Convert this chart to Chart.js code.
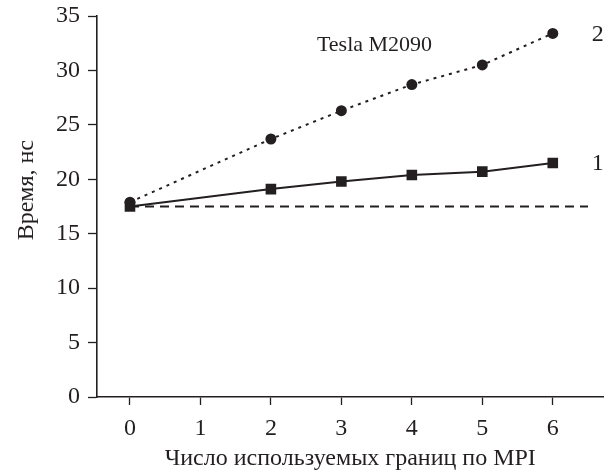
<!DOCTYPE html>
<html>
<head>
<meta charset="utf-8">
<script src="https://cdn.jsdelivr.net/npm/chart.js@4"></script>
<style>
  html, body { margin: 0; padding: 0; background: #fff; }
  #wrap { width: 611px; height: 475px; }
</style>
</head>
<body>
<div id="wrap"><canvas id="timeChart"></canvas></div>
<script>
// data
const boundaries = [0, 2, 3, 4, 5, 6];
const series1 = [17.5, 19.1, 19.8, 20.4, 20.7, 21.5];
const series2 = [17.9, 23.7, 26.3, 28.7, 30.5, 33.4];
const baseline = 17.5;
const baselineEnd = 6.5;
const xTicks = [0, 1, 2, 3, 4, 5, 6];
const yTicks = [0, 5, 10, 15, 20, 25, 30, 35];

const ink = '#231f20';
const serif = 'Liberation Serif, Times New Roman, serif';

function points(values) {
    return boundaries.map((b, i) => ({ x: b, y: values[i] }));
}

// text annotations: curve numbers, device name and the y title (sits a bit above centre)
const labelsPlugin = {
    id: 'curveLabels',
    afterDatasetsDraw(chart) {
        const ctx = chart.ctx;
        const xs = chart.scales.x;
        const ys = chart.scales.y;
        ctx.save();
        ctx.fillStyle = ink;
        ctx.textBaseline = 'middle';
        ctx.textAlign = 'center';
        ctx.font = '24px ' + serif;
        const last = boundaries.length - 1;
        ctx.fillText('2', xs.getPixelForValue(boundaries[last]) + 45, ys.getPixelForValue(series2[last]) + 1);
        ctx.fillText('1', xs.getPixelForValue(boundaries[last]) + 45, ys.getPixelForValue(series1[last]) + 1);
        ctx.font = '22px ' + serif;
        ctx.fillText('Tesla M2090', xs.getPixelForValue(3.47), ys.getPixelForValue(32.3));

        ctx.translate(27, ys.getPixelForValue(19));
        ctx.rotate(-Math.PI / 2);
        ctx.font = '24px ' + serif;
        ctx.fillText('Время, нс', 0, 0);
        ctx.restore();
    }
};

new Chart(document.getElementById('timeChart').getContext('2d'), {
    type: 'scatter',
    data: {
        datasets: [
            {
                label: 'baseline',
                data: [{ x: boundaries[0], y: baseline }, { x: baselineEnd, y: baseline }],
                showLine: true,
                borderColor: ink,
                borderWidth: 2,
                borderDash: [9, 6],
                pointRadius: 0
            },
            {
                label: '2',
                data: points(series2),
                showLine: true,
                borderColor: ink,
                backgroundColor: ink,
                borderWidth: 2,
                borderDash: [3, 5],
                pointStyle: 'circle',
                pointRadius: 5.5,
                pointBorderWidth: 0
            },
            {
                label: '1',
                data: points(series1),
                showLine: true,
                borderColor: ink,
                backgroundColor: ink,
                borderWidth: 2,
                pointStyle: 'rect',
                pointRadius: 7.5,
                pointBorderWidth: 0
            }
        ]
    },
    options: {
        responsive: true,
        maintainAspectRatio: false,
        animation: false,
        layout: { padding: { top: 16, right: 0, left: 0, bottom: 0 } },
        plugins: { legend: { display: false }, tooltip: { enabled: false } },
        scales: {
            x: {
                type: 'linear',
                min: -0.468,
                max: 6.72,
                afterBuildTicks: s => { s.ticks = xTicks.map(v => ({ value: v })); },
                afterFit: s => { s.height = 78; s.paddingLeft = 0; s.paddingRight = 0; },
                grid: { drawOnChartArea: false, tickLength: 8, color: ink, tickWidth: 1.3 },
                border: { color: ink, width: 1.6 },
                ticks: { color: ink, font: { family: serif, size: 24 }, padding: 9 },
                title: {
                    display: true,
                    text: 'Число используемых границ по MPI',
                    color: ink,
                    font: { family: serif, size: 24 },
                    padding: { top: 0, bottom: 2 }
                }
            },
            y: {
                min: 0,
                max: 35,
                afterBuildTicks: s => { s.ticks = yTicks.map(v => ({ value: v })); },
                afterFit: s => { s.width = 97; s.paddingTop = 0; s.paddingBottom = 0; },
                grid: { drawOnChartArea: false, tickLength: 9, color: ink, tickWidth: 1.3 },
                border: { color: ink, width: 1.6 },
                ticks: { color: ink, font: { family: serif, size: 24 }, padding: 8 },
                title: { display: false }
            }
        }
    },
    plugins: [labelsPlugin]
});
</script>
</body>
</html>
